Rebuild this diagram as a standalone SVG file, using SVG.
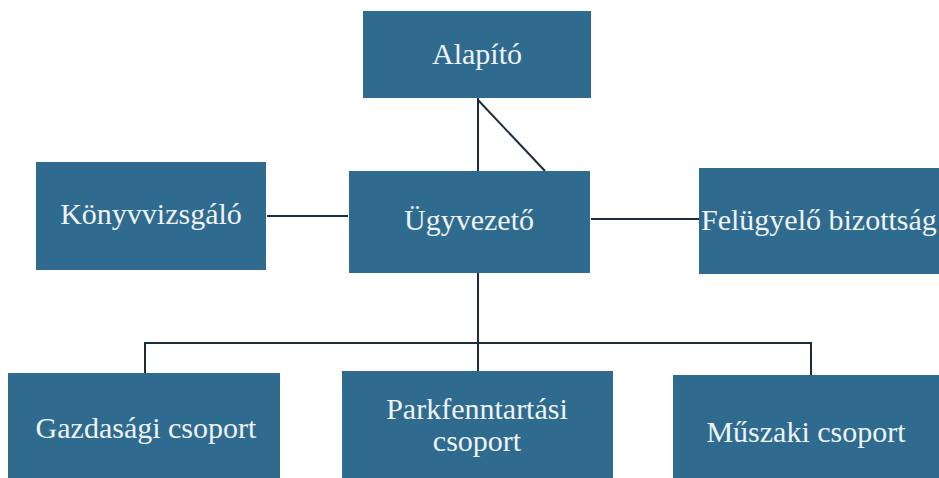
<svg xmlns="http://www.w3.org/2000/svg" width="939" height="478" viewBox="0 0 939 478">
<style>
.box{fill:#2f6a8f}
.t{font-family:'Liberation Serif','Times New Roman',serif;font-size:30px;fill:#eef3f6}
.c{stroke:#1e2b3a;stroke-width:2;fill:none}
</style>
<rect width="939" height="478" fill="#ffffff"/>
<g id="connectors">
<line class="c" x1="478" y1="98" x2="478" y2="171"/>
<line class="c" x1="478" y1="100" x2="545" y2="171"/>
<line class="c" x1="267" y1="216" x2="348" y2="216"/>
<line class="c" x1="591" y1="219" x2="699" y2="219"/>
<line class="c" x1="478" y1="273" x2="478" y2="372"/>
<polyline class="c" points="145,373 145,343 811,343 811,375"/>
</g>
<g id="alapito"><rect class="box" x="363" y="11" width="228" height="87"/><text class="t" x="477" y="64" text-anchor="middle">Alapító</text></g>
<g id="konyvvizsgalo"><rect class="box" x="36" y="162" width="230" height="108"/><text class="t" x="151" y="224" text-anchor="middle">Könyvvizsgáló</text></g>
<g id="ugyvezeto"><rect class="box" x="349" y="171" width="241" height="102"/><text class="t" x="469" y="230" text-anchor="middle">Ügyvezető</text></g>
<g id="felugyelo"><rect class="box" x="699" y="168" width="245" height="106"/><text class="t" x="701" y="230">Felügyelő bizottság</text></g>
<g id="gazdasagi"><rect class="box" x="8" y="373" width="272" height="110"/><text class="t" x="146" y="438" text-anchor="middle">Gazdasági csoport</text></g>
<g id="parkfenntartasi"><rect class="box" x="342" y="371" width="271" height="112"/><text class="t" x="477" y="419" text-anchor="middle">Parkfenntartási</text><text class="t" x="477" y="451" text-anchor="middle">csoport</text></g>
<g id="muszaki"><rect class="box" x="673" y="375" width="270" height="108"/><text class="t" x="806" y="442" text-anchor="middle">Műszaki csoport</text></g>
</svg>
